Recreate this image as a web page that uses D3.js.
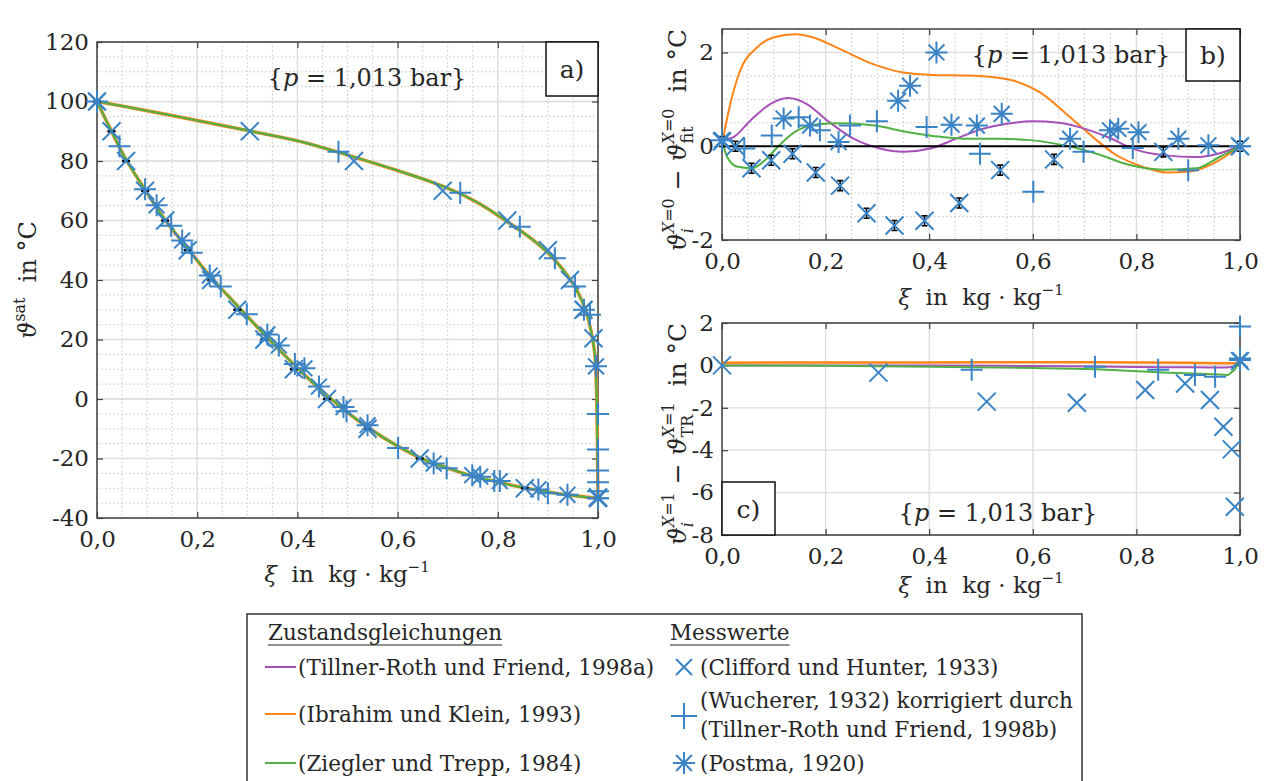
<!DOCTYPE html>
<html>
<head>
<meta charset="UTF-8">
<script src="https://d3js.org/d3.v7.min.js"></script>
<style>
  body { margin: 0; background: #fff; }
  text { font-family: "DejaVu Serif", serif; fill: #262626; white-space: pre; }
</style>
</head>
<body>
<div id="fig"></div>
<script>
// ---------- data ----------
// panel a) saturation lines (fit), xi in kg/kg, temperature in degC
const bubbleXi = [0, 0.029, 0.058, 0.096, 0.136, 0.181, 0.228, 0.28, 0.334, 0.393, 0.459, 0.54, 0.644, 0.7, 0.75, 0.8, 0.854, 0.9, 0.94, 1.0];
const bubbleT  = [100, 90, 80.5, 70.3, 60.2, 50.6, 40.8, 31.4, 21.7, 11.6, 1.2, -9.5, -19.7, -23.2, -25.9, -27.9, -29.9, -31.2, -32.2, -33.4];
const dewXi = [0, 0.1, 0.2, 0.305, 0.405, 0.5, 0.6, 0.698, 0.76, 0.82, 0.87, 0.901, 0.93, 0.951, 0.968, 0.977, 0.986, 0.993, 0.996, 0.998, 0.999, 1.0];
const dewT  = [100, 96.9, 93.6, 90.1, 86.6, 82, 76.8, 71, 66, 59.5, 53.5, 49, 43.5, 38.5, 33, 29, 23, 16, 8, -5, -20, -33.4];

// panel a) measurements
const cliffXiA = [0, 0.029, 0.058, 0.096, 0.136, 0.181, 0.228, 0.28, 0.334, 0.393, 0.459, 0.54, 0.644, 0.854, 1.0,
                  0.305, 0.513, 0.69, 0.819, 0.9, 0.944, 0.971, 0.991, 1.0];
const cliffTA  = [100, 90, 80, 70, 60, 50, 40, 30, 20, 10, 0, -10, -20, -30, -33.3,
                  90, 80, 70, 60, 50, 40, 30, 20.4, -33];
const wuchXiA = [0.045, 0.096, 0.148, 0.189, 0.247, 0.299, 0.395, 0.498, 0.601, 0.698, 0.793, 0.9, 1.0,
                 0.482, 0.725, 0.844, 0.914, 0.954, 0.984, 1.0, 1.0, 1.0, 1.0, 1.0];
const wuchTA  = [85, 70.5, 58.2, 49.2, 37.8, 28.5, 11.8, -4.1, -16.5, -23.3, -27.6, -31.7, -33.4,
                 83.1, 69.3, 57.9, 47.3, 37.8, 28.3, -5, -17, -24, -28, -31];
const postXiA = [0, 0.119, 0.17, 0.225, 0.34, 0.363, 0.414, 0.443, 0.492, 0.54, 0.672, 0.749, 0.765, 0.804, 0.881, 0.939, 1.0,
                 0.972, 0.996];
const postTA  = [100, 65.1, 53.3, 41.5, 21.7, 18.0, 10.3, 4.2, -2.7, -8.8, -21.7, -25.6, -26.1, -27.6, -30.4, -32.2, -33.4,
                 30, 11];

// panel b) deviation from fit on the bubble line (X = 0)
const bPurpleXi = [0, 0.023, 0.055, 0.093, 0.128, 0.164, 0.203, 0.254, 0.305, 0.35, 0.402, 0.45, 0.5, 0.55, 0.6, 0.65, 0.704, 0.75, 0.793, 0.852, 0.916, 0.95, 1.0];
const bPurple   = [0.13, 0.2, 0.55, 0.9, 1.03, 0.9, 0.55, 0.16, -0.05, -0.12, -0.05, 0.15, 0.36, 0.48, 0.53, 0.5, 0.36, 0.17, -0.05, -0.19, -0.23, -0.18, 0];
const bOrangeXi = [0, 0.016, 0.035, 0.067, 0.099, 0.141, 0.176, 0.228, 0.292, 0.35, 0.407, 0.46, 0.498, 0.562, 0.614, 0.672, 0.723, 0.757, 0.813, 0.858, 0.903, 0.948, 1.0];
const bOrange   = [0.05, 0.9, 1.61, 2.1, 2.32, 2.39, 2.32, 2.07, 1.75, 1.57, 1.52, 1.51, 1.5, 1.4, 1.15, 0.62, 0.13, -0.16, -0.44, -0.56, -0.54, -0.37, 0];
const bGreenXi = [0, 0.01, 0.03, 0.057, 0.083, 0.108, 0.14, 0.185, 0.23, 0.294, 0.359, 0.423, 0.476, 0.533, 0.595, 0.66, 0.723, 0.787, 0.852, 0.916, 0.96, 1.0];
const bGreen   = [0.13, -0.23, -0.44, -0.47, -0.3, -0.01, 0.3, 0.47, 0.49, 0.44, 0.3, 0.2, 0.16, 0.16, 0.13, 0.02, -0.16, -0.4, -0.5, -0.47, -0.23, 0];

const cliffXiB = [0, 0.026, 0.057, 0.095, 0.136, 0.181, 0.228, 0.279, 0.333, 0.391, 0.458, 0.537, 0.641, 0.852, 1.0];
const cliffB   = [0.1, 0, -0.47, -0.3, -0.16, -0.56, -0.84, -1.43, -1.69, -1.59, -1.21, -0.51, -0.28, -0.12, 0];
const wuchXiB = [0.043, 0.096, 0.148, 0.189, 0.247, 0.299, 0.395, 0.498, 0.601, 0.698, 0.793, 0.9, 1.0];
const wuchB   = [-0.05, 0.23, 0.62, 0.34, 0.44, 0.53, 0.41, -0.16, -0.97, -0.12, -0.04, -0.51, 0];
const postXiB = [0, 0.119, 0.17, 0.225, 0.34, 0.363, 0.414, 0.443, 0.492, 0.54, 0.672, 0.749, 0.765, 0.804, 0.881, 0.939, 1.0];
const postB   = [0.13, 0.59, 0.44, 0.09, 0.97, 1.29, 2.0, 0.46, 0.44, 0.69, 0.16, 0.34, 0.37, 0.3, 0.16, 0.02, 0];

// panel c) deviation from Tillner-Roth on the dew line (X = 1)
const cPurpleXi = [0, 0.2, 0.4, 0.6, 0.8, 0.9, 0.97, 0.99, 1.0];
const cPurple   = [0, 0, -0.01, -0.03, -0.07, -0.09, -0.1, -0.05, 0.1];
const cOrangeXi = [0, 0.2, 0.4, 0.6, 0.8, 0.9, 0.97, 0.99, 1.0];
const cOrange   = [0.13, 0.14, 0.14, 0.15, 0.14, 0.12, 0.1, 0.1, 0.2];
const cGreenXi = [0, 0.2, 0.4, 0.6, 0.723, 0.852, 0.95, 0.977, 0.99, 1.0];
const cGreen   = [0, -0.02, -0.06, -0.12, -0.18, -0.34, -0.42, -0.45, -0.2, 0.25];

const cliffXiC = [0, 0.302, 0.511, 0.685, 0.817, 0.894, 0.942, 0.968, 0.984, 0.99, 1.0];
const cliffC   = [0, -0.34, -1.71, -1.76, -1.16, -0.85, -1.63, -2.89, -3.96, -6.67, 0.2];
const wuchXiC = [0.482, 0.72, 0.842, 0.913, 0.952, 1.0, 1.0];
const wuchC   = [-0.21, -0.06, -0.21, -0.45, -0.53, 1.84, 0.33];
const postXiC = [1.0];
const postC   = [0.25];

// ticks
const xiTicks = [0, 0.2, 0.4, 0.6, 0.8, 1.0];
const aTicks = [-40, -20, 0, 20, 40, 60, 80, 100, 120];
const bTicks = [-2, 0, 2];
const cTicks = [-8, -6, -4, -2, 0, 2];

const modelNames = ["(Tillner-Roth und Friend, 1998a)", "(Ibrahim und Klein, 1993)", "(Ziegler und Trepp, 1984)"];
const pLabel = "1,013 bar";

// ---------- drawing ----------
const W = 1268, H = 781;
const blue = "#3a84c5", purple = "#a650b8", orange = "#ff8416", green = "#52b046";
const axisCol = "#404040";

const svg = d3.select("#fig").append("svg").attr("width", W).attr("height", H);

const comma = d => d.toFixed(1).replace(".", ",");

function zip(xs, ys) { return xs.map((v, i) => [v, ys[i]]); }

function marker(kind, s) {
  if (kind === "x") return `M${-s},${-s}L${s},${s}M${-s},${s}L${s},${-s}`;
  if (kind === "+") return `M${-s},0H${s}M0,${-s}V${s}`;
  const d = s * 0.72;
  return `M${-s},0H${s}M0,${-s}V${s}M${-d},${-d}L${d},${d}M${-d},${d}L${d},${-d}`;
}

function makePanel(box, yDom, yTicks, yMinorStep, xMinor) {
  const x = d3.scaleLinear().domain([0, 1]).range([box.l, box.r]);
  const y = d3.scaleLinear().domain(yDom).range([box.b, box.t]);
  const g = svg.append("g");

  if (xMinor) {
    g.append("g").selectAll("line").data(d3.range(0.05, 1, 0.05)).join("line")
      .attr("x1", d => x(d)).attr("x2", d => x(d)).attr("y1", box.t).attr("y2", box.b)
      .attr("stroke", "#c4c4c4").attr("stroke-dasharray", "1.5,2.5").attr("stroke-width", 1);
  }
  if (yMinorStep) {
    g.append("g").selectAll("line").data(d3.range(yDom[0] + yMinorStep, yDom[1], yMinorStep)).join("line")
      .attr("y1", d => y(d)).attr("y2", d => y(d)).attr("x1", box.l).attr("x2", box.r)
      .attr("stroke", "#c4c4c4").attr("stroke-dasharray", "1.5,2.5").attr("stroke-width", 1);
  }
  g.append("g").selectAll("line").data(xiTicks).join("line")
    .attr("x1", d => x(d)).attr("x2", d => x(d)).attr("y1", box.t).attr("y2", box.b)
    .attr("stroke", "#dcdcdc").attr("stroke-width", 1.3);
  g.append("g").selectAll("line").data(yTicks).join("line")
    .attr("y1", d => y(d)).attr("y2", d => y(d)).attr("x1", box.l).attr("x2", box.r)
    .attr("stroke", "#dcdcdc").attr("stroke-width", 1.3);

  const ax = svg.append("g").attr("class", "axes");
  ax.append("g").attr("transform", `translate(0,${box.b})`)
    .call(d3.axisBottom(x).tickValues(xiTicks).tickFormat(comma).tickSizeInner(-6).tickSizeOuter(0).tickPadding(13));
  ax.append("g").attr("transform", `translate(0,${box.t})`)
    .call(d3.axisTop(x).tickValues(xiTicks).tickFormat("").tickSizeInner(-6).tickSizeOuter(0));
  ax.append("g").attr("transform", `translate(${box.l},0)`)
    .call(d3.axisLeft(y).tickValues(yTicks).tickFormat(d => String(d)).tickSizeInner(-6).tickSizeOuter(0).tickPadding(8));
  ax.append("g").attr("transform", `translate(${box.r},0)`)
    .call(d3.axisRight(y).tickValues(yTicks).tickFormat("").tickSizeInner(-6).tickSizeOuter(0));
  ax.selectAll(".domain").remove();
  ax.selectAll(".tick line").attr("stroke", axisCol).attr("stroke-width", 1.2);
  ax.selectAll(".tick text").attr("font-family", "DejaVu Serif").style("font-size", "23px").attr("fill", "#262626");
  ax.append("rect").attr("x", box.l).attr("y", box.t).attr("width", box.r - box.l).attr("height", box.b - box.t)
    .attr("fill", "none").attr("stroke", axisCol).attr("stroke-width", 1.5);

  const layer = svg.append("g");
  return { x, y, layer, ax };
}

function drawLine(p, xs, ys, col, w, curve) {
  p.layer.append("path").datum(zip(xs, ys))
    .attr("fill", "none").attr("stroke", col).attr("stroke-width", w)
    .attr("d", d3.line().x(d => p.x(d[0])).y(d => p.y(d[1])).curve(curve));
}

function drawMarkers(p, xs, ys, kind, s) {
  p.layer.append("g").selectAll("path").data(zip(xs, ys)).join("path")
    .attr("transform", d => `translate(${p.x(d[0])},${p.y(d[1])})`)
    .attr("d", marker(kind, s)).attr("fill", "none").attr("stroke", blue).attr("stroke-width", 2);
}

function rich(parent, pieces, size) {
  let x = 0, mark = 0, maxX = 0;
  pieces.forEach(p => {
    if (p.mark) mark = x;
    if (p.reset) x = mark;
    const t = parent.append("text").attr("x", x + (p.dx || 0)).attr("y", p.y || 0)
      .style("font-size", (p.s || size) + "px")
      .style("font-style", p.it ? "italic" : "normal")
      .text(p.t);
    x += t.node().getComputedTextLength() + (p.dx || 0);
    maxX = Math.max(maxX, x);
    if (p.reset) x = maxX;
  });
  return maxX;
}

function label(cx, cy, rot, pieces, size) {
  const outer = svg.append("g").attr("transform", `translate(${cx},${cy}) rotate(${rot})`);
  const inner = outer.append("g");
  const w = rich(inner, pieces, size);
  inner.attr("transform", `translate(${-w / 2},0)`);
}

function boxLabel(x0, y0, x1, y1, txt) {
  svg.append("rect").attr("x", x0).attr("y", y0).attr("width", x1 - x0).attr("height", y1 - y0)
    .attr("fill", "#fff").attr("stroke", "#111").attr("stroke-width", 1.5);
  svg.append("text").attr("x", (x0 + x1) / 2).attr("y", (y0 + y1) / 2 + 9).attr("text-anchor", "middle")
    .style("font-size", "25px").text(txt);
}

const pPieces = [{ t: "{" }, { t: "p", it: 1 }, { t: " = " + pLabel + "}" }];
const xiPieces = [{ t: "ξ", it: 1 }, { t: "  in  kg · kg" }, { t: "−1", s: 15, y: -10 }];
const curveA = d3.curveCatmullRom.alpha(0.5);
const curveB = d3.curveMonotoneX;

// ---- panel a ----
const pa = makePanel({ l: 97, r: 598, t: 42, b: 518 }, [-40, 120], aTicks, 5, true);
[[purple, 2.2], [orange, 3.4], [green, 2.2]].forEach(([c, w]) => {
  drawLine(pa, bubbleXi, bubbleT, c, w, curveA);
  drawLine(pa, dewXi, dewT, c, w, curveA);
});
pa.layer.append("g").selectAll("line").data(zip(cliffXiA.slice(0, 15), cliffTA.slice(0, 15))).join("line")
  .attr("x1", d => pa.x(d[0]) - 4).attr("x2", d => pa.x(d[0]) + 4)
  .attr("y1", d => pa.y(d[1])).attr("y2", d => pa.y(d[1]))
  .attr("stroke", "#000").attr("stroke-width", 2.5);
drawMarkers(pa, cliffXiA, cliffTA, "x", 9);
drawMarkers(pa, wuchXiA, wuchTA, "+", 11);
drawMarkers(pa, postXiA, postTA, "*", 11);
boxLabel(546, 42, 598, 96, "a)");
label(367, 86, 0, pPieces, 24);
label(36, 280, -90, [{ t: "ϑ", it: 1 }, { t: "sat", s: 16, y: -11 }, { t: "  in °C" }], 24);
label(347, 582, 0, xiPieces, 23);

// ---- panel b ----
const pb = makePanel({ l: 722, r: 1240, t: 29, b: 240 }, [-2, 2.5], bTicks, 0.5, true);
drawLine(pb, bOrangeXi, bOrange, orange, 2, curveB);
drawLine(pb, bPurpleXi, bPurple, purple, 2, curveB);
drawLine(pb, bGreenXi, bGreen, green, 2, curveB);
pb.layer.append("line").attr("x1", pb.x(0)).attr("x2", pb.x(1)).attr("y1", pb.y(0)).attr("y2", pb.y(0))
  .attr("stroke", "#000").attr("stroke-width", 2);
pb.layer.append("g").selectAll("path").data(zip(cliffXiB, cliffB)).join("path")
  .attr("transform", d => `translate(${pb.x(d[0])},${pb.y(d[1])})`)
  .attr("d", "M-3,-5H3M0,-5V5M-3,5H3").attr("fill", "none").attr("stroke", "#000").attr("stroke-width", 1.6);
drawMarkers(pb, cliffXiB, cliffB, "x", 9);
drawMarkers(pb, wuchXiB, wuchB, "+", 11);
drawMarkers(pb, postXiB, postB, "*", 11);
boxLabel(1186, 29, 1240, 81, "b)");
label(1071, 63, 0, pPieces, 24);
label(686, 140, -90, [
  { t: "ϑ", it: 1 }, { t: "X", s: 16, y: -12, it: 1, mark: 1 }, { t: "=0", s: 16, y: -12 }, { t: "i", s: 16, y: 7, it: 1, reset: 1 },
  { t: " − " }, { t: "ϑ", it: 1 }, { t: "X", s: 16, y: -12, it: 1, mark: 1 }, { t: "=0", s: 16, y: -12 }, { t: "fit", s: 16, y: 7, reset: 1 },
  { t: "  in °C" }], 25);
label(981, 305, 0, xiPieces, 23);

// ---- panel c ----
const pc = makePanel({ l: 722, r: 1240, t: 323, b: 535 }, [-8, 2], cTicks, 0, false);
drawLine(pc, cPurpleXi, cPurple, purple, 2, curveB);
drawLine(pc, cOrangeXi, cOrange, orange, 2.5, curveB);
drawLine(pc, cGreenXi, cGreen, green, 2, d3.curveLinear);
drawMarkers(pc, cliffXiC, cliffC, "x", 9);
drawMarkers(pc, wuchXiC, wuchC, "+", 11);
drawMarkers(pc, postXiC, postC, "*", 11);
boxLabel(722, 482, 775, 535, "c)");
label(998, 521, 0, pPieces, 24);
label(686, 434, -90, [
  { t: "ϑ", it: 1 }, { t: "X", s: 16, y: -12, it: 1, mark: 1 }, { t: "=1", s: 16, y: -12 }, { t: "i", s: 16, y: 7, it: 1, reset: 1 },
  { t: " − " }, { t: "ϑ", it: 1 }, { t: "X", s: 16, y: -12, it: 1, mark: 1 }, { t: "=1", s: 16, y: -12 }, { t: "TR", s: 16, y: 7, reset: 1 },
  { t: "  in °C" }], 25);
label(981, 593, 0, xiPieces, 23);

// ---- legend ----
const lg = svg.append("g");
lg.append("rect").attr("x", 247).attr("y", 614).attr("width", 835).attr("height", 200)
  .attr("fill", "#fff").attr("stroke", "#333").attr("stroke-width", 1.5);
[["Zustandsgleichungen", 268], ["Messwerte", 670]].forEach(([t, x]) => {
  const tx = lg.append("text").attr("x", x).attr("y", 640).style("font-size", "21.5px").text(t);
  const w = tx.node().getComputedTextLength();
  lg.append("line").attr("x1", x).attr("x2", x + w).attr("y1", 645).attr("y2", 645)
    .attr("stroke", "#262626").attr("stroke-width", 1.2);
});
const rowsY = [667, 714, 763];
[purple, orange, green].forEach((c, i) => {
  lg.append("line").attr("x1", 265).attr("x2", 296).attr("y1", rowsY[i]).attr("y2", rowsY[i])
    .attr("stroke", c).attr("stroke-width", 2);
  lg.append("text").attr("x", 298).attr("y", rowsY[i] + 8).style("font-size", "21.5px").text(modelNames[i]);
});
const legMarks = [["x", 8, 667], ["+", 13, 716], ["*", 11, 763]];
legMarks.forEach(([k, s, yy]) => {
  lg.append("path").attr("transform", `translate(684,${yy})`).attr("d", marker(k, s))
    .attr("fill", "none").attr("stroke", blue).attr("stroke-width", 2);
});
[["(Clifford und Hunter, 1933)", 675], ["(Wucherer, 1932) korrigiert durch", 708],
 ["(Tillner-Roth und Friend, 1998b)", 737], ["(Postma, 1920)", 771]].forEach(([t, yy]) => {
  lg.append("text").attr("x", 700).attr("y", yy).style("font-size", "21.5px").text(t);
});
</script>
</body>
</html>
